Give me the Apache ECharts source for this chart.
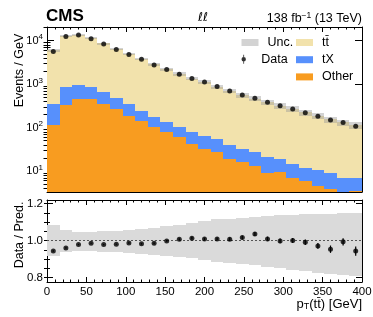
<!DOCTYPE html>
<html><head><meta charset="utf-8">
<script src="https://cdn.jsdelivr.net/npm/echarts@6/dist/echarts.min.js"></script>
<style>html,body{margin:0;padding:0;background:#fff}#c{width:373px;height:317px}</style>
</head><body><div id="c"></div>
<script>
// ---- data (pT(tt̄) bins of 16 GeV, 0..400) ----
const binLow = [0,16,32,48,64,80,96,112,128,144,160,176,192,208,224,240,256,272,288,304,320,336,352,368,384];
const binWidth = 16;
const other = [113,330,450,445,350,265,188,142,105,78,60,41,32,28,18.6,15.8,13,8.8,9.5,7.1,5.8,4.5,3.8,3.0,3.5];
const tX    = [237,520,500,405,300,225,160,104,73,54,45,38,32,26,21.4,16.2,14,11.8,9.5,7.4,6.2,6.0,5.0,4.1,3.3];
const ttbar = [5650,12250,12850,10550,8000,6010,4580,3575,2670,2090,1615,1270,1045,820,657,526,438,362,302,255,211,177,148,126,108];
const dataEv = [5650,12500,13600,11100,8400,6300,4850,3770,2780,2190,1700,1350,1120,880,700,565,475,385,320,270,221,183,150,132,108];
const uncUp   = [0.086,0.058,0.046,0.046,0.050,0.053,0.058,0.064,0.070,0.079,0.086,0.093,0.106,0.115,0.118,0.122,0.127,0.133,0.137,0.140,0.142,0.144,0.146,0.148,0.152];
const uncDown = [0.086,0.064,0.057,0.057,0.060,0.064,0.068,0.073,0.079,0.084,0.090,0.097,0.104,0.115,0.120,0.126,0.133,0.142,0.151,0.160,0.167,0.175,0.181,0.186,0.190];
const ratio    = [0.943,0.960,0.978,0.985,0.978,0.980,0.987,0.982,0.985,0.998,1.007,1.013,1.009,1.009,1.007,1.016,1.035,1.009,0.998,1.000,0.991,0.971,0.953,0.993,0.943];
const ratioErr = [0.004,0.003,0.003,0.003,0.003,0.003,0.004,0.004,0.005,0.005,0.006,0.007,0.007,0.008,0.009,0.010,0.011,0.012,0.013,0.014,0.015,0.016,0.020,0.020,0.025];
const xTicks = [0,50,100,150,200,250,300,350,400];
const ratioLabels = [0.8,1.0,1.2];

// ---- helpers ----
const FONT = 'Liberation Sans, Arial, sans-serif';
const Y_MIN = 3.3, Y_MAX = 20700, R_MIN = 0.775, R_MAX = 1.22;
const COL = {ttbar:'#F2E2AC', tX:'#5790FC', other:'#F89C20', unc:'rgba(150,150,150,0.42)', uncR:'#DADADA'};

function layer(lowArr, highArr){
  return binLow.map((x,i)=>[x, x+binWidth, lowArr ? lowArr[i] : Y_MIN*0.5, highArr[i]]);
}
const sumOT = other.map((v,i)=>v+tX[i]);
const total = sumOT.map((v,i)=>v+ttbar[i]);

function makeRect(floor){
  return function(params, api){
    const lo = Math.max(api.value(2), floor), hi = api.value(3);
    if (hi <= floor) return null;
    const p0 = api.coord([api.value(0), hi]);
    const p1 = api.coord([api.value(1), lo]);
    const x0 = Math.round(p0[0]), x1 = Math.round(p1[0]);
    const y0 = Math.round(p0[1]), y1 = Math.round(p1[1]);
    return {type:'rect', shape:{x:x0, y:y0, width:x1-x0, height:y1-y0}, style:{fill: api.visual('color')}};
  };
}

const minorLog = [];
for (let e=0;e<=4;e++) for (let k=2;k<=9;k++){ const v=k*Math.pow(10,e); if (v>Y_MIN && v<Y_MAX) minorLog.push(Math.log10(v)); }
const minorRatio = [];
for (let v=0.8; v<=1.2001; v+=0.05) minorRatio.push(+v.toFixed(2));

const tickLine = {color:'#000', width:1};
function xAx(grid, pos, labels){
  return {type:'value', gridIndex:grid, position:pos, min:0, max:400, interval:50,
    axisLine:{show:true, onZero:false, lineStyle:tickLine},
    axisTick:{show:true, inside:true, length:5, lineStyle:tickLine},
    minorTick:{show:true, splitNumber:5, length:2.5, lineStyle:tickLine},
    splitLine:{show:false},
    axisLabel:{show:labels, fontFamily:FONT, fontSize:11.5, color:'#000', margin:4}};
}
function yLog(pos, labels){
  return {type:'log', logBase:10, gridIndex:0, position:pos, min:Y_MIN, max:Y_MAX,
    axisLine:{show:true, onZero:false, lineStyle:tickLine},
    axisTick:{show:true, inside:true, length:7, lineStyle:tickLine},
    splitLine:{show:false},
    axisLabel:{show:labels, margin:4, color:'#000', fontFamily:FONT,
      formatter: v => { const l=Math.log10(v), e=Math.round(l); if (Math.abs(l-e)>1e-6) return ''; return '{b|10}{s|'+e+'}'; },
      rich:{b:{fontSize:11, fontFamily:FONT, color:'#000'}, s:{fontSize:8, fontFamily:FONT, color:'#000', padding:[0,0,7,0]}}}};
}
function yMinor(grid, pos, min, max, vals, len){
  return {type:'value', gridIndex:grid, position:pos, min:min, max:max,
    axisLine:{show:false}, splitLine:{show:false}, axisLabel:{show:false},
    axisTick:{show:true, inside:true, length:len, lineStyle:tickLine, customValues: vals}};
}
function yRatio(pos, labels){
  return {type:'value', gridIndex:1, position:pos, min:R_MIN, max:R_MAX,
    axisLine:{show:true, onZero:false, lineStyle:tickLine}, splitLine:{show:false},
    axisTick:{show:true, inside:true, length:6, lineStyle:tickLine, customValues: ratioLabels},
    axisLabel:{show:labels, customValues: ratioLabels, formatter: v => v.toFixed(1), fontFamily:FONT, fontSize:11.5, color:'#000', margin:4}};
}

const xRatio = xAx(1, 'bottom', true);
xRatio.name = '{p|p}{t|T}{p|(tt̄) [GeV]}';
xRatio.nameLocation = 'end';
xRatio.nameGap = 0;
xRatio.nameMoveOverlap = false;
xRatio.nameTextStyle = {align:'right', verticalAlign:'top', padding:[15,0,0,0],
  rich:{p:{fontSize:13, fontFamily:FONT, color:'#000'}, t:{fontSize:9, fontFamily:FONT, color:'#000', padding:[5,0,0,0]}}};

const yMain = yLog('left', true);
yMain.name = 'Events / GeV';
yMain.nameLocation = 'middle';
yMain.nameGap = 21;
yMain.nameMoveOverlap = false;
yMain.nameTextStyle = {fontFamily:FONT, fontSize:12.5, color:'#000', padding:[0,0,0,78]};

const yR = yRatio('left', true);
yR.name = 'Data / Pred.';
yR.nameLocation = 'middle';
yR.nameGap = 21;
yR.nameMoveOverlap = false;
yR.nameTextStyle = {fontFamily:FONT, fontSize:12.5, color:'#000', padding:[0,0,0,12]};

const dataIcon = 'path://M1.8,0 L2.6,0 L2.6,9 L1.8,9 Z M0,4.5 A2.2,2.2 0 1 1 4.4,4.5 A2.2,2.2 0 1 1 0,4.5 Z';
const legText = {fontFamily:FONT, fontSize:12.5, color:'#000', padding:[0,0,0,4]};

const option = {
  animation:false,
  backgroundColor:'#fff',
  title:[
    {text:'CMS', left:46, top:8, padding:0, textStyle:{fontFamily:FONT, fontWeight:'bold', fontSize:17, color:'#000'}},
    {text:'ℓℓ', left:198, top:12, padding:0, textStyle:{fontFamily:'DejaVu Sans', fontStyle:'italic', fontWeight:'normal', fontSize:12, color:'#000'}},
    {text:'138 fb{s|−1} (13 TeV)', right:11, top:11, padding:0,
      textStyle:{fontFamily:FONT, fontWeight:'normal', fontSize:12.5, color:'#000',
        rich:{s:{fontFamily:FONT, fontSize:8.5, color:'#000', padding:[0,0,7,0]}}}}
  ],
  legend:[
    {data:[{name:'Unc.', icon:'rect'}], left:241.5, top:36, padding:0, itemWidth:17, itemHeight:7, textStyle:legText, selectedMode:false},
    {data:[{name:'Data', icon:dataIcon}], left:241.5, top:52.7, padding:0, itemWidth:17, itemHeight:9, textStyle:legText, selectedMode:false},
    {data:[{name:'tt̄', icon:'rect'},{name:'tX', icon:'rect'},{name:'Other', icon:'rect'}], orient:'vertical', left:296, top:36, padding:0, itemGap:4.2, itemWidth:17, itemHeight:7, textStyle:legText, selectedMode:false}
  ],
  grid:[
    {left:47, right:11, top:27, height:165, outerBoundsMode:'none', containLabel:false},
    {left:47, right:11, top:200, height:82, outerBoundsMode:'none', containLabel:false}
  ],
  xAxis:[ xAx(0,'bottom',false), xAx(0,'top',false), xRatio, xAx(1,'top',false) ],
  yAxis:[
    yMain, yLog('right', false),
    yMinor(0,'left', Math.log10(Y_MIN), Math.log10(Y_MAX), minorLog, 3.5),
    yMinor(0,'right', Math.log10(Y_MIN), Math.log10(Y_MAX), minorLog, 3.5),
    yR, yRatio('right', false),
    yMinor(1,'left', R_MIN, R_MAX, minorRatio, 3),
    yMinor(1,'right', R_MIN, R_MAX, minorRatio, 3)
  ],
  series:[
    {type:'custom', name:'tt̄', xAxisIndex:0, yAxisIndex:0, clip:true, itemStyle:{color:COL.ttbar},
      renderItem:makeRect(Y_MIN), encode:{x:[0,1], y:[2,3]}, data:layer(sumOT, total)},
    {type:'custom', name:'tX', xAxisIndex:0, yAxisIndex:0, clip:true, itemStyle:{color:COL.tX},
      renderItem:makeRect(Y_MIN), encode:{x:[0,1], y:[2,3]}, data:layer(other, sumOT)},
    {type:'custom', name:'Other', xAxisIndex:0, yAxisIndex:0, clip:true, itemStyle:{color:COL.other},
      renderItem:makeRect(Y_MIN), encode:{x:[0,1], y:[2,3]}, data:layer(null, other)},
    {type:'custom', name:'Unc.', xAxisIndex:0, yAxisIndex:0, clip:true, itemStyle:{color:COL.unc},
      renderItem:makeRect(Y_MIN), encode:{x:[0,1], y:[2,3]},
      data:binLow.map((x,i)=>[x, x+binWidth, total[i]*(1-uncDown[i]), total[i]*(1+uncUp[i])])},
    {type:'scatter', name:'Data', xAxisIndex:0, yAxisIndex:0, symbol:'circle', symbolSize:5, itemStyle:{color:'#000'}, z:5,
      data:binLow.map((x,i)=>[x+binWidth/2, dataEv[i]])},
    // ratio panel
    {type:'custom', name:'Unc.', xAxisIndex:2, yAxisIndex:4, clip:true, itemStyle:{color:COL.uncR},
      renderItem:makeRect(R_MIN), encode:{x:[0,1], y:[2,3]},
      data:binLow.map((x,i)=>[x, x+binWidth, 1-uncDown[i], 1+uncUp[i]])},
    {type:'custom', name:'ratioErr', xAxisIndex:2, yAxisIndex:4, z:4,
      renderItem:(params, api)=>{
        const a = api.coord([api.value(0), api.value(1)-api.value(2)]);
        const b = api.coord([api.value(0), api.value(1)+api.value(2)]);
        return {type:'line', shape:{x1:a[0], y1:a[1], x2:b[0], y2:b[1]}, style:{stroke:'#000', lineWidth:1.2}};
      }, encode:{x:0, y:1},
      data:binLow.map((x,i)=>[x+binWidth/2, ratio[i], ratioErr[i]])},
    {type:'scatter', name:'Data', xAxisIndex:2, yAxisIndex:4, symbol:'circle', symbolSize:5, itemStyle:{color:'#000'}, z:5,
      data:binLow.map((x,i)=>[x+binWidth/2, ratio[i]]),
      markLine:{silent:true, symbol:'none', label:{show:false}, lineStyle:{type:[2,2], color:'#333', width:0.8}, data:[{yAxis:1}]}}
  ]
};
const chart = echarts.init(document.getElementById('c'), null, {renderer:'canvas'});
chart.setOption(option);
</script></body></html>
